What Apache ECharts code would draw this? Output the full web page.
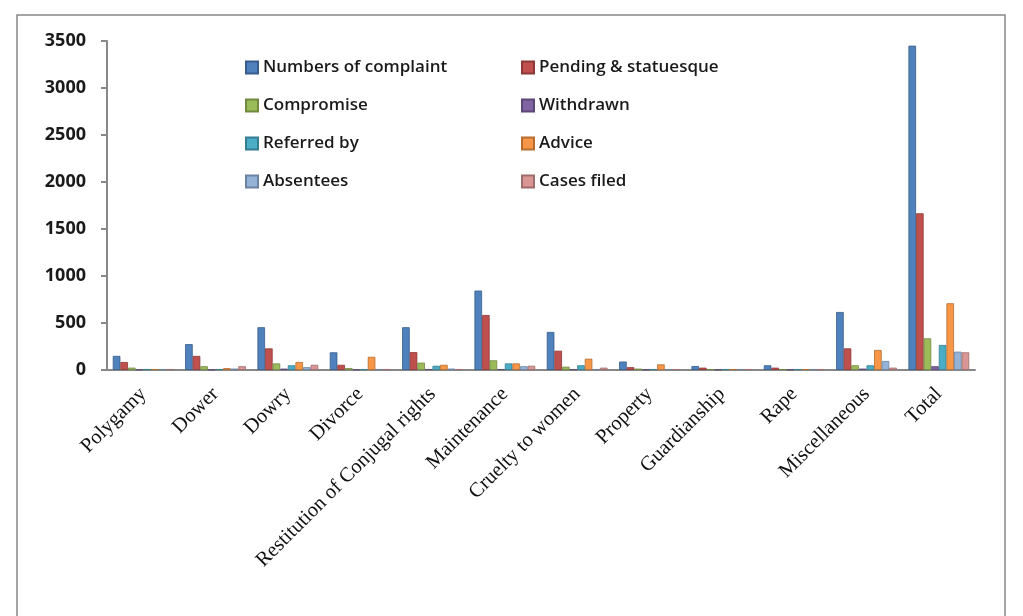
<!DOCTYPE html>
<html><head><meta charset="utf-8">
<script src="https://cdn.jsdelivr.net/npm/echarts@6/dist/echarts.min.js"></script>
<style>html,body{margin:0;padding:0;background:#fff}#c{width:1023px;height:616px}</style>
</head><body><div id="c"></div>
<script>
const categories = ["Polygamy","Dower","Dowry","Divorce","Restitution of Conjugal rights","Maintenance","Cruelty to women","Property","Guardianship","Rape","Miscellaneous","Total"];
const seriesNames = ["Numbers of complaint","Pending & statuesque","Compromise","Withdrawn","Referred by","Advice","Absentees","Cases filed"];
const numbersOfComplaint = [150, 275, 455, 188, 455, 845, 405, 90, 42, 50, 617, 3450];
const pendingStatuesque  = [85, 150, 230, 55, 190, 585, 205, 30, 25, 25, 230, 1667];
const compromise         = [25, 40, 70, 20, 78, 103, 35, 15, 10, 10, 50, 337];
const withdrawn          = [5, 5, 15, 5, 10, 10, 10, 5, 5, 5, 15, 40];
const referredBy         = [10, 10, 50, 10, 45, 70, 50, 10, 10, 10, 50, 266];
const advice             = [10, 20, 85, 140, 55, 70, 120, 60, 10, 10, 213, 710];
const absentees          = [10, 15, 30, 10, 15, 40, 10, 10, 10, 10, 96, 195];
const casesFiled         = [10, 40, 55, 10, 10, 45, 25, 10, 10, 10, 25, 188];
const yTicks = [0, 500, 1000, 1500, 2000, 2500, 3000, 3500];

const allData = [numbersOfComplaint, pendingStatuesque, compromise, withdrawn, referredBy, advice, absentees, casesFiled];
const colors = ["#4F81BD","#C0504D","#9BBB59","#8064A2","#4BACC6","#F79646","#95B3D7","#D99694"];
const borders = ["#385D8A","#8C3836","#71893F","#5C4776","#357D91","#B66D31","#6B83A0","#9E6C6B"];

const chart = echarts.init(document.getElementById('c'));
const legendText = {fontFamily:"'Open Sans', sans-serif", fontSize:17, fontWeight:600, color:'#1a1a1a'};
chart.setOption({
  animation:false,
  color: colors,
  graphic:[{type:'polyline', shape:{points:[[17,616],[17,15],[1005,15],[1005,616]]}, style:{stroke:'#888', lineWidth:1.5, fill:null}}],
  legend:[
    {data:[seriesNames[0],seriesNames[2],seriesNames[4],seriesNames[6]], orient:'vertical', left:240, top:54, itemWidth:12, itemHeight:12, itemGap:21, icon:'rect', textStyle:legendText},
    {data:[seriesNames[1],seriesNames[3],seriesNames[5],seriesNames[7]], orient:'vertical', left:516, top:54, itemWidth:12, itemHeight:12, itemGap:21, icon:'rect', textStyle:legendText}
  ],
  grid:{left:107, right:48, top:41, bottom:246},
  xAxis:{type:'category', data:categories,
    axisLine:{lineStyle:{color:'#888', width:2}},
    axisTick:{alignWithLabel:false, length:6, lineStyle:{color:'#888', width:2}},
    axisLabel:{rotate:45, interval:0, fontFamily:"'Liberation Serif', serif", fontSize:20.5, color:'#111', margin:21}},
  yAxis:{type:'value', min:0, max:3500, interval:500,
    axisLine:{show:true, lineStyle:{color:'#888', width:2}},
    axisTick:{show:true, inside:false, length:6, lineStyle:{color:'#888', width:2}},
    splitLine:{show:false},
    axisLabel:{fontFamily:"'Open Sans', sans-serif", fontSize:18, fontWeight:'bold', color:'#1a1a1a', margin:21,
      formatter: v => yTicks.includes(v) ? String(v) : ''}},
  series: seriesNames.map((n,i)=>({
    name:n, type:'bar', data:allData[i], barGap:'0%', barCategoryGap:'16%',
    itemStyle:{color:colors[i], borderColor:borders[i], borderWidth:0.8}
  }))
});
</script></body></html>
